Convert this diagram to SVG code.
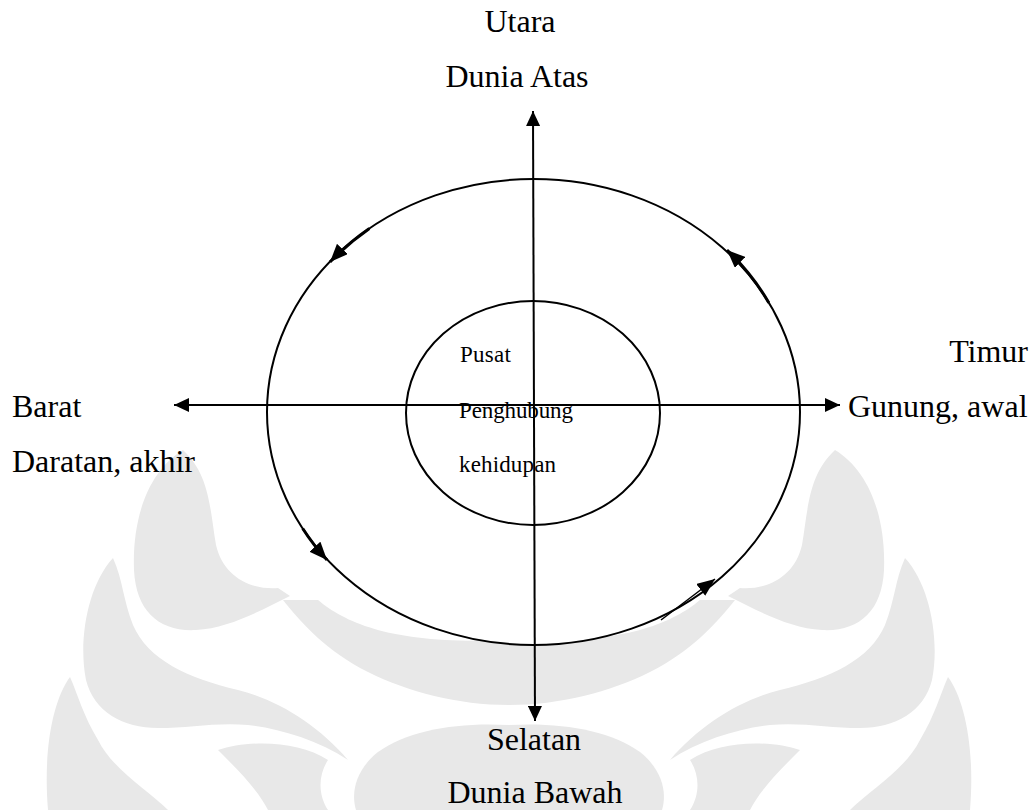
<svg xmlns="http://www.w3.org/2000/svg" width="1031" height="810" viewBox="0 0 1031 810">
  <style>
    .lbl { font-family: "Liberation Serif", "Times New Roman", serif; font-size: 32px; fill: #000; }
    .inner { font-family: "Liberation Serif", "Times New Roman", serif; font-size: 23px; fill: #000; }
    .ring { fill: #fff; stroke: #000; stroke-width: 2; }
    .axis { fill: none; stroke: #000; stroke-width: 2; }
    .flow { fill: none; stroke: #000; stroke-width: 3; }
    .wm { fill: #e8e8e8; stroke: none; }
  </style>
  <defs>
    <marker id="ah" viewBox="0 0 15 14" refX="15" refY="7" markerWidth="15" markerHeight="14" markerUnits="userSpaceOnUse" orient="auto-start-reverse">
      <path d="M0,0 L15,7 L0,14 Z" fill="#000"/>
    </marker>
    <marker id="ah2" viewBox="0 0 18 15" refX="18" refY="7.5" markerWidth="18" markerHeight="15" markerUnits="userSpaceOnUse" orient="auto">
      <path d="M0,0 L18,7.5 L0,15 Z" fill="#000"/>
    </marker>
    <g id="wmhalf">
      <path class="wm" d="M835,450 C868,470 886,515 884,570 C882,612 858,632 822,630 C790,628 760,612 728,596 L740,588 C770,590 795,575 802,545 C808,510 808,475 835,450 Z"/>
      <path class="wm" d="M905,558 C930,585 940,640 932,680 C924,712 895,728 860,728 C830,728 800,722 770,725 C740,728 700,740 670,760 C700,725 740,700 780,690 C830,678 870,660 885,625 C895,600 895,580 905,558 Z"/>
      <path class="wm" d="M948,677 C965,700 975,750 970,810 L850,810 C870,790 905,770 920,740 C935,715 940,695 948,677 Z"/>
      <path class="wm" d="M509,640 L509,705 C560,705 610,692 650,672 C690,652 715,625 735,600 L700,600 C670,625 620,645 509,640 Z"/>
      <path class="wm" d="M509,725 C560,722 610,730 640,752 C660,768 668,790 662,810 L509,810 Z"/>
      <path class="wm" d="M690,760 C720,740 770,740 800,750 C780,770 760,790 750,810 L690,810 C700,795 700,775 690,760 Z"/>
    </g>
  </defs>

  <g id="watermark">
    <use href="#wmhalf"/>
    <use href="#wmhalf" transform="translate(1018,0) scale(-1,1)"/>
  </g>

  <g id="outer-ring">
    <ellipse class="ring" cx="533.5" cy="412" rx="266.5" ry="233"/>
  </g>
  <g id="inner-ring">
    <ellipse class="ring" cx="533" cy="413" rx="127" ry="112"/>
  </g>

  <g id="connectors">
    <path class="axis" d="M535,721 L533,111" marker-start="url(#ah)" marker-end="url(#ah)"/>
    <path class="axis" d="M174,405 L840,405" marker-start="url(#ah)" marker-end="url(#ah)"/>
    <path class="flow" d="M369.4,228.4 A266.5,233 0 0 0 330,262" marker-end="url(#ah2)"/>
    <path class="flow" d="M768.8,302.7 A266.5,233 0 0 0 727,250" marker-end="url(#ah2)"/>
    <path class="flow" d="M302.7,528.5 A266.5,233 0 0 0 327,560" marker-end="url(#ah2)"/>
    <path class="axis" style="stroke-width:1.5" d="M661,620 L715,579" marker-end="url(#ah2)"/>
  </g>

  <g id="node-north">
    <text class="lbl" x="520" y="32" text-anchor="middle">Utara</text>
    <text class="lbl" x="517" y="87" text-anchor="middle">Dunia Atas</text>
  </g>
  <g id="node-east">
    <text class="lbl" x="1028" y="362" text-anchor="end">Timur</text>
    <text class="lbl" x="848" y="417">Gunung, awal</text>
  </g>
  <g id="node-west">
    <text class="lbl" x="12" y="417">Barat</text>
    <text class="lbl" x="12" y="472">Daratan, akhir</text>
  </g>
  <g id="node-south">
    <text class="lbl" x="534" y="750" text-anchor="middle">Selatan</text>
    <text class="lbl" x="535" y="803" text-anchor="middle">Dunia Bawah</text>
  </g>
  <g id="node-center">
    <text class="inner" x="460" y="362" textLength="51">Pusat</text>
    <text class="inner" x="459" y="418" textLength="114">Penghubung</text>
    <text class="inner" x="459" y="472" textLength="97">kehidupan</text>
  </g>
</svg>
